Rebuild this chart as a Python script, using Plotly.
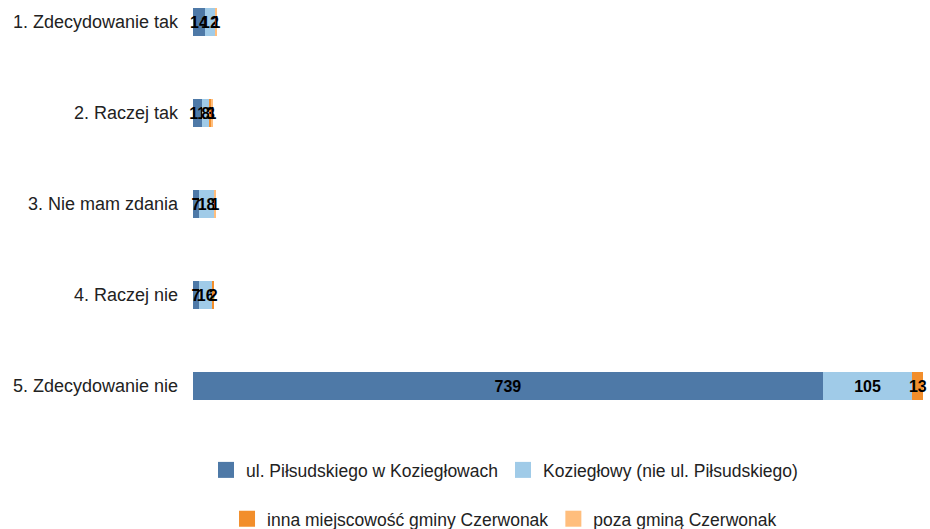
import plotly.graph_objects as go

categories = ["1. Zdecydowanie tak", "2. Raczej tak", "3. Nie mam zdania", "4. Raczej nie", "5. Zdecydowanie nie"]
series_names = ["ul. Piłsudskiego w Koziegłowach", "Koziegłowy (nie ul. Piłsudskiego)",
                "inna miejscowość gminy Czerwonak", "poza gminą Czerwonak"]
pilsudskiego = [14, 11, 7, 7, 739]
kozieglowy = [12, 8, 18, 16, 105]
inna = [0, 3, 0, 2, 13]
poza = [1, 1, 1, 0, 0]
colors = ["#4E79A7", "#A0CBE8", "#F28E2B", "#FFBE7D"]

fig = go.Figure()
for i, (name, vals, col) in enumerate(zip(series_names, [pilsudskiego, kozieglowy, inna, poza], colors)):
    fig.add_trace(go.Bar(
        y=categories, x=vals, name=name, orientation="h",
        marker=dict(color=col, line=dict(width=0)),
        text=[str(v) if v else "" for v in vals],
        textposition="inside", insidetextanchor="middle", textangle=0,
        constraintext="none", cliponaxis=False,
        textfont=dict(family="Liberation Sans", size=16, color="black", weight="bold"),
        showlegend=False,
    ))
# legend entries
for i, (name, col) in enumerate(zip(series_names, colors)):
    fig.add_trace(go.Scatter(
        x=[None], y=[None], mode="markers", name=name,
        marker=dict(symbol="square", size=16, color=col),
        legend="legend" if i < 2 else "legend2",
    ))

fig.update_layout(
    barmode="stack", bargap=0.69,
    width=930, height=529,
    margin=dict(l=193, r=4, t=0, b=97, autoexpand=False),
    paper_bgcolor="white", plot_bgcolor="white",
    font=dict(family="Liberation Sans", size=18, color="#222"),
    xaxis=dict(range=[0, 860], visible=False, showgrid=False, zeroline=False),
    yaxis=dict(range=[4.505, -0.242], autorange=False, showgrid=False, zeroline=False,
               ticks="", ticklabelstandoff=14, tickfont=dict(size=18, color="#222")),
    legend=dict(orientation="h", x=0.425, xanchor="center", y=-0.088, yanchor="middle",
                traceorder="normal", itemsizing="trace",
                font=dict(size=17.5, color="#222"), bgcolor="rgba(0,0,0,0)"),
    legend2=dict(orientation="h", x=0.425, xanchor="center", y=-0.201, yanchor="middle",
                 traceorder="normal", itemsizing="trace",
                 font=dict(size=17.5, color="#222"), bgcolor="rgba(0,0,0,0)"),
    showlegend=True,
)

fig.write_html("out.html", post_script="document.body.style.margin='0';",
               config={"displayModeBar": False})
